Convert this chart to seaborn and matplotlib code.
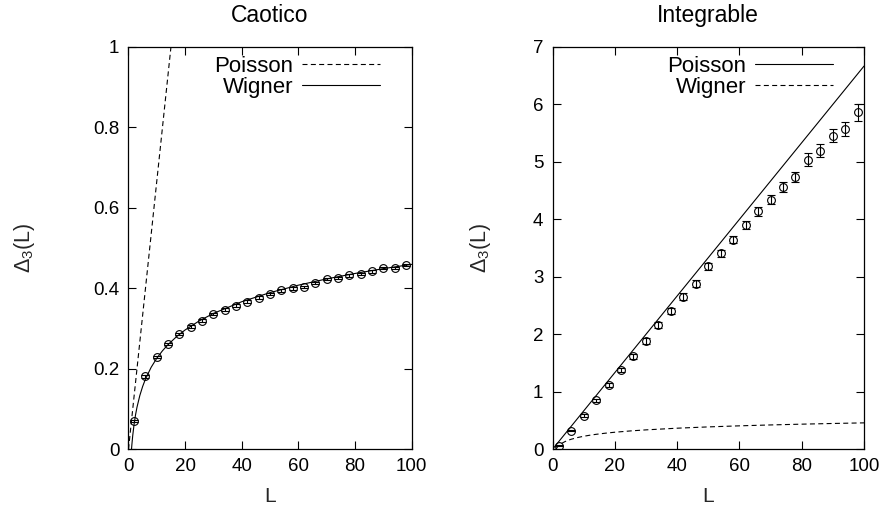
import matplotlib
matplotlib.use("Agg")
import matplotlib.pyplot as plt
import numpy as np
import pandas as pd
import seaborn as sns

# Interval lengths L at which Delta_3 was measured
L_points = [2, 6, 10, 14, 18, 22, 26, 30, 34, 38, 42, 46, 50,
            54, 58, 62, 66, 70, 74, 78, 82, 86, 90, 94, 98]

# Chaotic spectrum: measured Delta_3(L) and its errors
chaotic_d3 = [0.070, 0.181, 0.230, 0.262, 0.286, 0.305, 0.320, 0.336, 0.347,
              0.357, 0.367, 0.377, 0.386, 0.395, 0.400, 0.404, 0.414, 0.423,
              0.425, 0.432, 0.436, 0.442, 0.450, 0.450, 0.458]
chaotic_err = [0.003, 0.003, 0.003, 0.003, 0.003, 0.003, 0.003, 0.003, 0.003,
               0.003, 0.003, 0.003, 0.003, 0.003, 0.003, 0.003, 0.003, 0.003,
               0.003, 0.003, 0.003, 0.003, 0.003, 0.003, 0.003]

# Integrable spectrum: measured Delta_3(L) and its errors
integrable_d3 = [0.063, 0.325, 0.586, 0.855, 1.122, 1.379, 1.616, 1.885, 2.157,
                 2.408, 2.658, 2.880, 3.187, 3.408, 3.647, 3.902, 4.141, 4.339,
                 4.566, 4.729, 5.037, 5.194, 5.455, 5.578, 5.864]
integrable_err = [0.010, 0.015, 0.020, 0.025, 0.030, 0.035, 0.040, 0.045, 0.050,
                  0.050, 0.055, 0.060, 0.060, 0.065, 0.065, 0.070, 0.075, 0.080,
                  0.087, 0.087, 0.110, 0.115, 0.115, 0.125, 0.145]

# Reference curves
poisson_L = [0, 100]
poisson_d3 = [0.0, 6.667]
wigner_L = [1.07, 1.2, 1.5, 2, 2.5, 3, 4, 5, 6, 8, 10, 12, 14, 17, 20, 25,
            30, 40, 50, 60, 70, 80, 90, 100]
wigner_d3 = [0.0, 0.0115, 0.0341, 0.0633, 0.0859, 0.1044, 0.1335, 0.1561,
             0.1746, 0.2037, 0.2264, 0.2448, 0.2604, 0.2801, 0.2966, 0.3192,
             0.3377, 0.3668, 0.3894, 0.4079, 0.4235, 0.4370, 0.4490, 0.4596]

x_ticks = [0, 20, 40, 60, 80, 100]
left_y_ticks = [0, 0.2, 0.4, 0.6, 0.8, 1]
left_y_labels = ["0", "0.2", "0.4", "0.6", "0.8", "1"]
right_y_ticks = [0, 1, 2, 3, 4, 5, 6, 7]

sns.set_theme(style="ticks")
plt.rcParams["font.family"] = ["Liberation Sans", "DejaVu Sans"]
plt.rcParams.update({
    "axes.linewidth": 0.9,
    "axes.edgecolor": "black",
    "xtick.direction": "in",
    "ytick.direction": "in",
    "xtick.major.size": 5.8,
    "ytick.major.size": 5.8,
    "xtick.major.width": 0.8,
    "ytick.major.width": 0.8,
    "xtick.top": True,
    "ytick.right": True,
    "xtick.labelsize": 13.5,
    "ytick.labelsize": 13.5,
    "xtick.major.pad": 6.0,
    "ytick.major.pad": 6.5,
    "text.color": "black",
    "xtick.color": "black",
    "ytick.color": "black",
})

poisson_df = pd.DataFrame({"L": poisson_L, "d3": poisson_d3})
wigner_df = pd.DataFrame({"L": wigner_L, "d3": wigner_d3})

fig = plt.figure(figsize=(8.91, 5.16), dpi=100)
ax_l = fig.add_axes([0.1442, 0.1293, 0.3178, 0.7797])
ax_r = fig.add_axes([0.6201, 0.1293, 0.3496, 0.7797])

dash = (0, (4.5, 3.0))
lw = 0.8


def draw_points(ax, y, err):
    ax.errorbar(L_points, y, yerr=err, fmt="o", ms=5.6, mfc="none",
                mec="black", mew=0.8, ecolor="black", elinewidth=0.8,
                capsize=2.6, capthick=0.8, zorder=3)


# Chaotic panel: Poisson dashed, Wigner solid
sns.lineplot(data=poisson_df, x="L", y="d3", ax=ax_l, color="black", lw=lw,
             linestyle=dash, label="Poisson")
sns.lineplot(data=wigner_df, x="L", y="d3", ax=ax_l, color="black", lw=lw,
             linestyle="-", label="Wigner")
draw_points(ax_l, chaotic_d3, chaotic_err)
ax_l.set_xlim(0, 100)
ax_l.set_ylim(0, 1)
ax_l.set_yticks(left_y_ticks)
ax_l.set_yticklabels(left_y_labels)
ax_l.set_title("Caotico", fontsize=16.5, pad=18)

# Integrable panel: Poisson solid, Wigner dashed
sns.lineplot(data=poisson_df, x="L", y="d3", ax=ax_r, color="black", lw=lw,
             linestyle="-", label="Poisson")
sns.lineplot(data=wigner_df, x="L", y="d3", ax=ax_r, color="black", lw=lw,
             linestyle=dash, label="Wigner")
draw_points(ax_r, integrable_d3, integrable_err)
ax_r.set_xlim(0, 100)
ax_r.set_ylim(0, 7)
ax_r.set_yticks(right_y_ticks)
ax_r.set_title("Integrable", fontsize=16.5, pad=18)

for ax, lx, anchor_x in ((ax_l, -0.3235, 0.889), (ax_r, -0.191, 0.900)):
    ax.set_xticks(x_ticks)
    ax.set_xlabel("L", fontsize=15)
    ax.set_ylabel(r"$\mathregular{\Delta_3(L)}$", fontsize=15.5)
    ax.xaxis.set_label_coords(0.5, -0.094)
    ax.yaxis.set_label_coords(lx, 0.5)
    ax.legend(loc="upper right", bbox_to_anchor=(anchor_x, 0.978),
              frameon=False, markerfirst=False, fontsize=16,
              handlelength=3.5, handletextpad=0.4, labelspacing=0.0,
              borderpad=0, borderaxespad=0)
    for s in ax.spines.values():
        s.set_visible(True)

fig.savefig("out.png", dpi=100)
